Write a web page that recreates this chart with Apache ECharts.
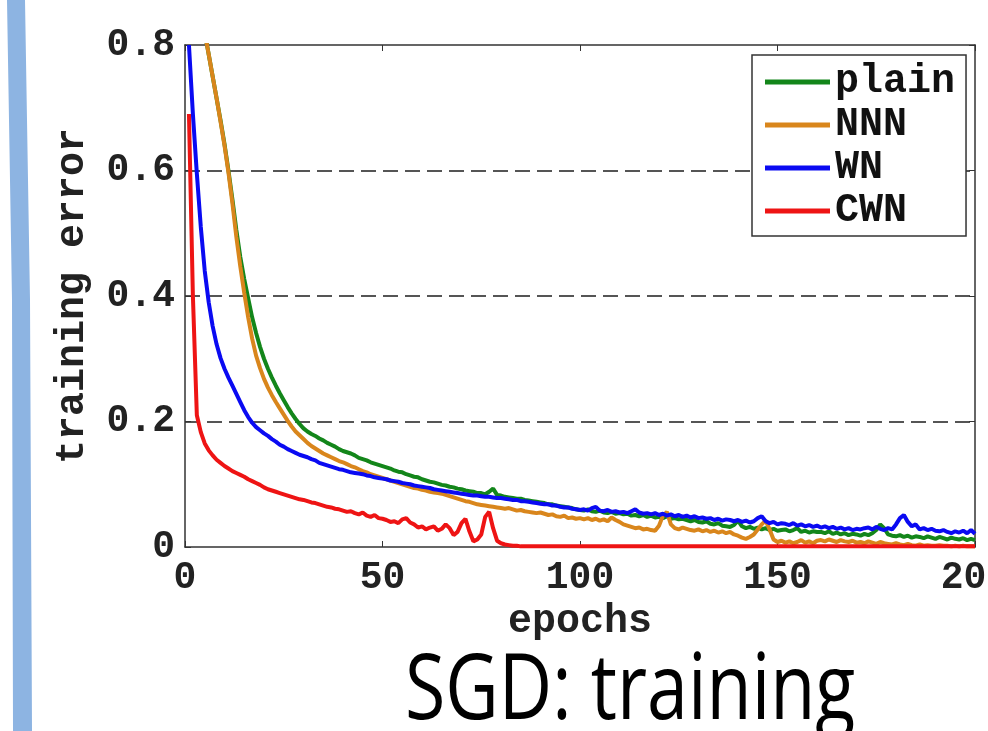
<!DOCTYPE html>
<html>
<head>
<meta charset="utf-8">
<script src="https://cdn.jsdelivr.net/npm/echarts@6/dist/echarts.min.js"></script>
<style>
html, body { margin: 0; padding: 0; background: #fff; }
#main { width: 988px; height: 731px; }
</style>
</head>
<body>
<div id="main"></div>
<script>
// tick labels
var xTicks = [0, 50, 100, 150, 200];
var yTicks = [0, 0.2, 0.4, 0.6, 0.8];

// epochs 1..200 (one sample per epoch)
var epochs = [];
for (var e = 1; e <= 200; e++) epochs.push(e);

var seriesNames = ['plain', 'NNN', 'WN', 'CWN'];

// training error, epoch 1..200
var plain = [
  0.95, 0.92, 0.885, 0.85, 0.82, 0.785, 0.75, 0.715, 0.68, 0.642,
  0.600, 0.554, 0.505, 0.462, 0.427, 0.396, 0.366, 0.341, 0.319, 0.300,
  0.284, 0.270, 0.257, 0.245, 0.234, 0.223, 0.213, 0.204, 0.196, 0.189,
  0.184, 0.180, 0.177, 0.173, 0.170, 0.166, 0.163, 0.160, 0.156, 0.153,
  0.151, 0.149, 0.146, 0.142, 0.140, 0.138, 0.135, 0.133, 0.131, 0.129,
  0.127, 0.125, 0.122, 0.120, 0.119, 0.116, 0.114, 0.112, 0.111, 0.108,
  0.106, 0.104, 0.103, 0.101, 0.099, 0.098, 0.096, 0.095, 0.093, 0.092,
  0.090, 0.089, 0.088, 0.086, 0.086, 0.084, 0.088, 0.093, 0.083, 0.082,
  0.080, 0.079, 0.078, 0.077, 0.077, 0.075, 0.074, 0.073, 0.072, 0.071,
  0.070, 0.068, 0.068, 0.066, 0.065, 0.064, 0.063, 0.062, 0.060, 0.059,
  0.058, 0.060, 0.057, 0.056, 0.058, 0.055, 0.054, 0.056, 0.053, 0.054,
  0.052, 0.053, 0.050, 0.051, 0.049, 0.051, 0.048, 0.050, 0.047, 0.048,
  0.046, 0.049, 0.045, 0.046, 0.044, 0.045, 0.043, 0.041, 0.043, 0.040,
  0.039, 0.041, 0.037, 0.036, 0.038, 0.034, 0.033, 0.032, 0.035, 0.042,
  0.033, 0.030, 0.032, 0.029, 0.031, 0.028, 0.030, 0.027, 0.029, 0.026,
  0.027, 0.028, 0.025, 0.027, 0.030, 0.024, 0.026, 0.023, 0.025, 0.024,
  0.024, 0.022, 0.025, 0.021, 0.023, 0.020, 0.022, 0.019, 0.021, 0.020,
  0.018, 0.021, 0.019, 0.022, 0.027, 0.036, 0.030, 0.020, 0.018, 0.017,
  0.019, 0.016, 0.018, 0.015, 0.017, 0.016, 0.014, 0.017, 0.015, 0.013,
  0.016, 0.014, 0.012, 0.015, 0.013, 0.012, 0.014, 0.011, 0.013, 0.011
];
var nnn = [
  0.95, 0.92, 0.885, 0.85, 0.82, 0.785, 0.75, 0.715, 0.678, 0.640,
  0.597, 0.548, 0.494, 0.447, 0.405, 0.366, 0.332, 0.305, 0.285, 0.268,
  0.254, 0.242, 0.231, 0.221, 0.211, 0.201, 0.192, 0.184, 0.178, 0.172,
  0.166, 0.161, 0.157, 0.153, 0.149, 0.146, 0.143, 0.140, 0.137, 0.135,
  0.132, 0.129, 0.127, 0.124, 0.121, 0.119, 0.116, 0.114, 0.112, 0.110,
  0.108, 0.106, 0.104, 0.102, 0.100, 0.098, 0.096, 0.094, 0.093, 0.091,
  0.090, 0.088, 0.087, 0.086, 0.085, 0.083, 0.081, 0.079, 0.077, 0.075,
  0.073, 0.072, 0.070, 0.068, 0.067, 0.066, 0.065, 0.064, 0.063, 0.062,
  0.061, 0.062, 0.060, 0.058, 0.059, 0.057, 0.056, 0.055, 0.054, 0.055,
  0.053, 0.051, 0.052, 0.049, 0.048, 0.050, 0.046, 0.047, 0.045, 0.046,
  0.044, 0.046, 0.043, 0.045, 0.042, 0.044, 0.041, 0.047, 0.043, 0.040,
  0.036, 0.034, 0.032, 0.030, 0.031, 0.028, 0.029, 0.027, 0.026, 0.034,
  0.050, 0.056, 0.036, 0.030, 0.028, 0.031, 0.029, 0.027, 0.026, 0.028,
  0.025, 0.027, 0.024, 0.026, 0.023, 0.025, 0.022, 0.024, 0.020, 0.018,
  0.015, 0.013, 0.016, 0.020, 0.028, 0.036, 0.042, 0.028, 0.012, 0.008,
  0.010, 0.007, 0.009, 0.006, 0.008, 0.011, 0.007, 0.009, 0.006, 0.010,
  0.011, 0.009, 0.012, 0.010, 0.008, 0.011, 0.009, 0.008, 0.010, 0.007,
  0.008, 0.006, 0.009, 0.007, 0.005, 0.008, 0.006, 0.005, 0.004, 0.006,
  0.004, 0.003, 0.005, 0.003, 0.002, 0.004, 0.002, 0.003, 0.002, 0.002,
  0.003, 0.002, 0.002, 0.001, 0.002, 0.001, 0.002, 0.001, 0.001, 0.001
];
var wn = [
  0.80, 0.69, 0.595, 0.51, 0.44, 0.39, 0.352, 0.323, 0.301, 0.284,
  0.270, 0.257, 0.244, 0.231, 0.218, 0.207, 0.198, 0.191, 0.186, 0.181,
  0.177, 0.172, 0.168, 0.163, 0.160, 0.156, 0.153, 0.150, 0.147, 0.145,
  0.143, 0.140, 0.138, 0.134, 0.132, 0.130, 0.128, 0.126, 0.124, 0.123,
  0.121, 0.119, 0.118, 0.117, 0.116, 0.114, 0.113, 0.111, 0.110, 0.109,
  0.108, 0.106, 0.105, 0.104, 0.102, 0.101, 0.100, 0.098, 0.097, 0.096,
  0.095, 0.094, 0.092, 0.091, 0.090, 0.089, 0.088, 0.087, 0.086, 0.085,
  0.084, 0.083, 0.082, 0.082, 0.081, 0.080, 0.080, 0.079, 0.078, 0.078,
  0.077, 0.076, 0.075, 0.075, 0.073, 0.073, 0.072, 0.071, 0.070, 0.069,
  0.068, 0.068, 0.066, 0.066, 0.064, 0.063, 0.063, 0.061, 0.060, 0.059,
  0.060, 0.058, 0.062, 0.064, 0.058, 0.057, 0.059, 0.056, 0.057, 0.055,
  0.056, 0.054, 0.057, 0.060, 0.055, 0.053, 0.054, 0.052, 0.054, 0.051,
  0.053, 0.050, 0.052, 0.049, 0.051, 0.048, 0.050, 0.047, 0.049, 0.046,
  0.047, 0.045, 0.046, 0.043, 0.045, 0.042, 0.044, 0.043, 0.041, 0.043,
  0.040, 0.042, 0.039, 0.041, 0.046, 0.049, 0.041, 0.038, 0.040, 0.036,
  0.038, 0.037, 0.035, 0.038, 0.034, 0.036, 0.033, 0.035, 0.032, 0.034,
  0.031, 0.033, 0.030, 0.032, 0.029, 0.031, 0.028, 0.030, 0.027, 0.029,
  0.028, 0.030, 0.031, 0.028, 0.032, 0.029, 0.027, 0.030, 0.028, 0.036,
  0.046, 0.051, 0.040, 0.033, 0.036, 0.028, 0.030, 0.027, 0.029, 0.026,
  0.025, 0.027, 0.024, 0.022, 0.025, 0.023, 0.026, 0.022, 0.027, 0.021
];
var cwn = [
  0.69, 0.40, 0.21, 0.183, 0.165, 0.154, 0.146, 0.139, 0.134, 0.129,
  0.125, 0.121, 0.118, 0.115, 0.112, 0.108, 0.105, 0.102, 0.099, 0.095,
  0.092, 0.090, 0.088, 0.086, 0.084, 0.082, 0.080, 0.078, 0.076, 0.075,
  0.073, 0.071, 0.070, 0.068, 0.066, 0.064, 0.063, 0.061, 0.060, 0.058,
  0.056, 0.057, 0.054, 0.052, 0.055, 0.050, 0.048, 0.051, 0.046, 0.045,
  0.043, 0.040, 0.041, 0.038, 0.044, 0.046, 0.039, 0.036, 0.031, 0.033,
  0.028, 0.031, 0.033, 0.026, 0.029, 0.036, 0.030, 0.019, 0.024, 0.038,
  0.045, 0.025, 0.009, 0.012, 0.020, 0.048, 0.056, 0.030, 0.010, 0.006,
  0.004, 0.003, 0.002, 0.002, 0.001, 0.001, 0.001, 0.001, 0.001, 0.001,
  0.001, 0.001, 0.001, 0.001, 0.001, 0.001, 0.001, 0.001, 0.001, 0.001,
  0.001, 0.001, 0.001, 0.001, 0.001, 0.001, 0.001, 0.001, 0.001, 0.001,
  0.001, 0.001, 0.001, 0.001, 0.001, 0.001, 0.001, 0.001, 0.001, 0.001,
  0.001, 0.001, 0.001, 0.001, 0.001, 0.001, 0.001, 0.001, 0.001, 0.001,
  0.001, 0.001, 0.001, 0.001, 0.001, 0.001, 0.001, 0.001, 0.001, 0.001,
  0.001, 0.001, 0.001, 0.001, 0.001, 0.001, 0.001, 0.001, 0.001, 0.001,
  0.001, 0.001, 0.001, 0.001, 0.001, 0.001, 0.001, 0.001, 0.001, 0.001,
  0.001, 0.001, 0.001, 0.001, 0.001, 0.001, 0.001, 0.001, 0.001, 0.001,
  0.001, 0.001, 0.001, 0.001, 0.001, 0.001, 0.001, 0.001, 0.001, 0.001,
  0.001, 0.001, 0.001, 0.001, 0.001, 0.001, 0.001, 0.001, 0.001, 0.001,
  0.001, 0.001, 0.001, 0.001, 0.001, 0.001, 0.001, 0.001, 0.001, 0.001
];

var colors = ['#13861a', '#d9861c', '#0a0af2', '#ee1414'];
var mono = '"Liberation Mono", "Courier New", monospace';

function pairs(vals) {
  return vals.map(function(v, i) { return [epochs[i], v]; });
}

var axisLineStyle = { color: '#333', width: 1.5 };

var chart = echarts.init(document.getElementById('main'));
var option = {
  backgroundColor: '#fff',
  animation: false,
  grid: { left: 185, top: 45, width: 790, height: 502, containLabel: false, outerBoundsMode: 'none' },
  legend: {
    data: seriesNames,
    orient: 'vertical',
    left: 752,
    top: 55,
    icon: 'rect',
    itemWidth: 65,
    itemHeight: 5,
    itemGap: 3,
    padding: [7, 11, 5, 13],
    backgroundColor: '#fff',
    borderColor: '#333',
    borderWidth: 1.5,
    textStyle: { fontFamily: mono, fontWeight: 'bold', fontSize: 40, lineHeight: 40, color: '#111' }
  },
  xAxis: [
    {
      type: 'value',
      min: xTicks[0],
      max: xTicks[xTicks.length - 1],
      interval: xTicks[1] - xTicks[0],
      position: 'bottom',
      axisLine: { show: true, onZero: false, lineStyle: axisLineStyle },
      axisTick: { show: true, inside: true, length: 6, lineStyle: { color: '#333' } },
      axisLabel: { color: '#222', fontFamily: mono, fontWeight: 'bold', fontSize: 38, margin: 12 },
      splitLine: { show: false },
      name: 'epochs',
      nameLocation: 'middle',
      nameGap: 46,
      nameTextStyle: { color: '#222', fontFamily: mono, fontWeight: 'bold', fontSize: 40 }
    },
    {
      type: 'value',
      min: xTicks[0],
      max: xTicks[xTicks.length - 1],
      interval: xTicks[1] - xTicks[0],
      position: 'top',
      axisLine: { show: true, onZero: false, lineStyle: axisLineStyle },
      axisTick: { show: true, inside: true, length: 6, lineStyle: { color: '#333' } },
      axisLabel: { show: false },
      splitLine: { show: false }
    }
  ],
  yAxis: [
    {
      type: 'value',
      min: yTicks[0],
      max: yTicks[yTicks.length - 1],
      interval: yTicks[1] - yTicks[0],
      position: 'left',
      axisLine: { show: true, onZero: false, lineStyle: axisLineStyle },
      axisTick: { show: true, inside: true, length: 6, lineStyle: { color: '#333' } },
      axisLabel: {
        color: '#222', fontFamily: mono, fontWeight: 'bold', fontSize: 38, margin: 10,
        formatter: function(v) { return v === 0 ? '0' : v.toFixed(1); }
      },
      splitLine: {
        show: true, showMinLine: false, showMaxLine: false,
        lineStyle: { color: '#555', width: 2, type: [15, 7] }
      },
      name: 'training error',
      nameLocation: 'middle',
      nameGap: 92,
      nameRotate: 90,
      nameTextStyle: { color: '#222', fontFamily: mono, fontWeight: 'bold', fontSize: 40 }
    },
    {
      type: 'value',
      min: yTicks[0],
      max: yTicks[yTicks.length - 1],
      interval: yTicks[1] - yTicks[0],
      position: 'right',
      axisLine: { show: true, onZero: false, lineStyle: axisLineStyle },
      axisTick: { show: true, inside: true, length: 6, lineStyle: { color: '#333' } },
      axisLabel: { show: false },
      splitLine: { show: false }
    }
  ],
  series: [plain, nnn, wn, cwn].map(function(vals, i) {
    return {
      name: seriesNames[i],
      type: 'line',
      xAxisIndex: 0,
      yAxisIndex: 0,
      showSymbol: false,
      clip: true,
      color: colors[i],
      lineStyle: { color: colors[i], width: 4 },
      data: pairs(vals)
    };
  }),
  graphic: [
    {
      type: 'polygon',
      silent: true,
      shape: { points: [[7, 0], [25, 0], [30, 300], [32, 731], [13, 731], [12, 300]] },
      style: { fill: '#8db4e2' }
    },
    {
      type: 'text',
      silent: true,
      x: 405,
      y: 693,
      scaleX: 0.8,
      style: {
        text: 'SGD: training',
        fontFamily: '"Open Sans", sans-serif',
        fontSize: 92,
        fill: '#000',
        align: 'left',
        verticalAlign: 'middle'
      }
    }
  ]
};
chart.setOption(option);
</script>
</body>
</html>
